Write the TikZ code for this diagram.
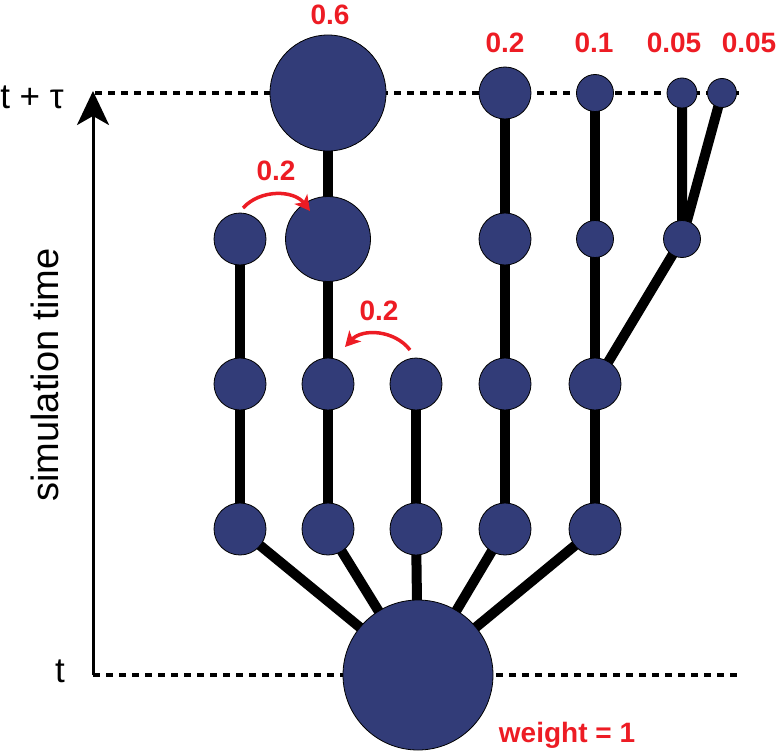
\documentclass[tikz,border=0pt]{standalone}
\usepackage{fontspec}
\setmainfont{Liberation Sans}
\usetikzlibrary{arrows.meta,backgrounds}
\definecolor{walkblue}{RGB}{50,60,120}
\definecolor{weightred}{RGB}{237,28,36}
\tikzstyle{walker} = [circle, draw=black, line width=0.8pt, fill=walkblue, inner sep=0pt]
\tikzstyle{branch} = [draw, line width=10pt]
\tikzset{
  timeline/.style ={draw, line width=3.5pt, dash pattern=on 7pt off 6pt},
  weight/.style ={text=weightred, font=\fontsize{28}{34}\selectfont\bfseries, inner sep=0pt, anchor=base},
  clone/.style ={draw=weightred, line width=3.5pt, -{Stealth[length=15pt,width=16pt,inset=4pt]}},
  axislabel/.style ={font=\fontsize{35}{42}\selectfont, inner sep=0pt, anchor=base}
}
\begin{document}
\begin{tikzpicture}[x=1pt,y=-1pt]
	\useasboundingbox (0,0) rectangle (778,754);
	% walkers
	\node[walker, minimum size=150pt] (root) at (418,675) {};
	\foreach \i/\x in {1/240,2/328,3/416,4/505,5/595} {
		\node[walker, minimum size=52pt] (a\i) at (\x,529) {};
		\node[walker, minimum size=52pt] (b\i) at (\x,384) {};
	}
	\node[walker, minimum size=52pt] (c1) at (240,239) {};
	\node[walker, minimum size=85pt] (c2) at (328,239) {};
	\node[walker, minimum size=52pt] (c4) at (505,239) {};
	\node[walker, minimum size=37pt] (c5) at (595,239) {};
	\node[walker, minimum size=37pt] (c6) at (682,239) {};
	\node[walker, minimum size=116pt] (d2) at (328,93) {};
	\node[walker, minimum size=52pt] (d4) at (505,93) {};
	\node[walker, minimum size=37pt] (d5) at (595,93) {};
	\node[walker, minimum size=30pt] (d6) at (682,93) {};
	\node[walker, minimum size=29pt] (d7) at (722,93) {};
	% time axis
	\coordinate (t0) at (93,675);
	\coordinate (t0end) at (740,675);
	\coordinate (t1) at (95,93);
	\coordinate (t1end) at (740,93);
	\coordinate (t1tip) at (93,91);
	\begin{scope}[on background layer]
		\draw[timeline] (t0) -- (t0end);
		\draw[timeline] (t1) -- (t1end);
		\draw[line width=3pt, -{Stealth[length=34pt,width=32pt,inset=9pt]}] (t0) -- (t1tip);
		\foreach \i in {1,...,5} {
			\draw[branch] (root.center) -- (a\i.center);
			\draw[branch] (a\i.center) -- (b\i.center);
		}
		\draw[branch] (b1.center) -- (c1.center);
		\draw[branch] (b2.center) -- (c2.center) -- (d2.center);
		\draw[branch] (b4.center) -- (c4.center) -- (d4.center);
		\draw[branch] (b5.center) -- (c5.center) -- (d5.center);
		\draw[branch] (b5.center) -- (c6.center) -- (d6.center);
		\draw[branch] (c6.center) -- (d7.center);
	\end{scope}
	% labels
	\node[axislabel] (tnow) at (60,682) {t};
	\node[axislabel] (tnext) at (32,109) {t + τ};
	\node[axislabel, font=\fontsize{38}{45}\selectfont, rotate=90] (simtime) at (58,375) {simulation time};
	\node[weight] (w6) at (330,25) {0.6};
	\node[weight] (w2) at (505,53) {0.2};
	\node[weight] (w1) at (594,53) {0.1};
	\node[weight] (w05a) at (674,53) {0.05};
	\node[weight] (w05b) at (749,53) {0.05};
	\node[weight] (wroot) at (567,742) {weight = 1};
	% cloning moves
	\coordinate (m1s) at (243,208);
	\coordinate (m1e) at (310,211);
	\coordinate (m2s) at (410,350);
	\coordinate (m2e) at (345,347);
	\draw[clone] (m1s) to[bend left=50] (m1e);
	\draw[clone] (m2s) to[bend right=50] (m2e);
	\node[weight] (wm1) at (276,180) {0.2};
	\node[weight] (wm2) at (379,320) {0.2};
\end{tikzpicture}
\end{document}
